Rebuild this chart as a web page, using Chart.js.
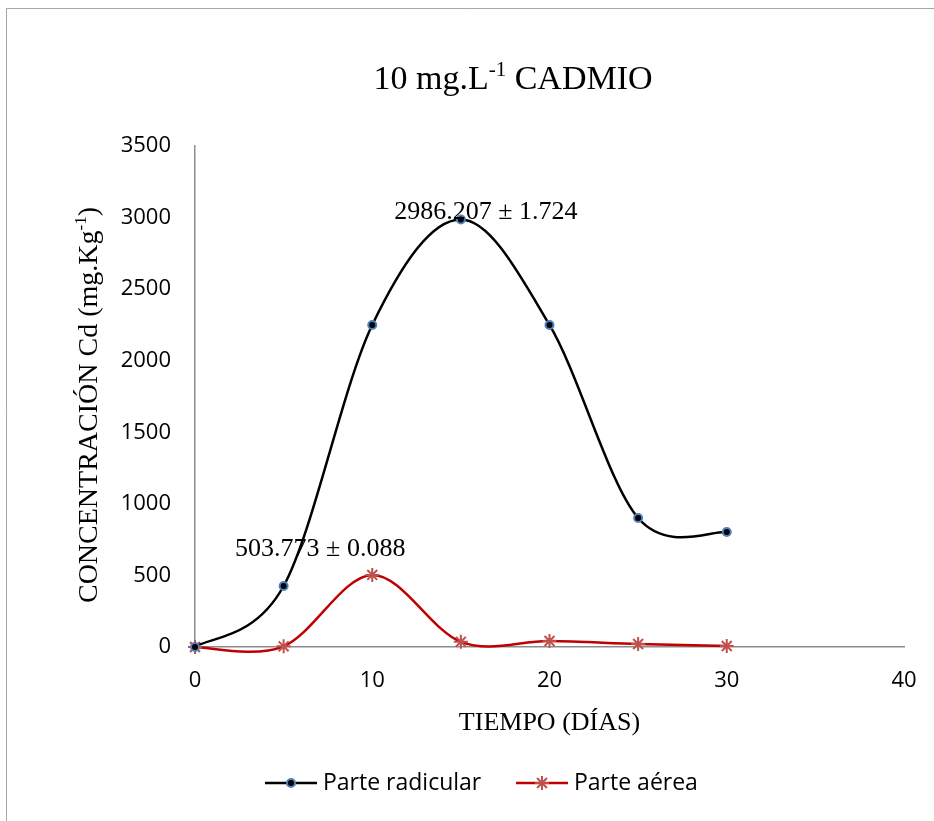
<!DOCTYPE html>
<html>
<head>
<meta charset="utf-8">
<script src="https://cdn.jsdelivr.net/npm/chart.js@4/dist/chart.umd.min.js"></script>
<style>
  html, body { margin: 0; padding: 0; background: #fff; }
  #wrap { width: 934px; height: 821px; position: relative; }
</style>
</head>
<body>
<div id="wrap"><canvas id="myChart" width="934" height="821"></canvas></div>
<script>
// days of exposure
const days = [0, 5, 10, 15, 20, 25, 30];
// Cd concentration (mg/kg) in root and aerial parts
const radicular = [0, 426, 2250, 2986.207, 2250, 901, 803];
const aerea = [0, 5, 503.773, 36, 42, 21, 7];
const yTicks = [0, 500, 1000, 1500, 2000, 2500, 3000, 3500];
const xTicks = [0, 10, 20, 30, 40];

const SERIF = '"Liberation Serif", "Times New Roman", serif';
const SANS = '"Open Sans", "Noto Sans", sans-serif';

function toXY(xs, ys) {
  return xs.map((x, i) => ({ x: x, y: ys[i] }));
}

// text with a raised "-1" part: [base, sup, tail]
function supText(ctx, parts, size, x, y) {
  const small = Math.round(size * 0.62);
  ctx.font = size + 'px ' + SERIF;
  const w0 = ctx.measureText(parts[0]).width;
  ctx.font = small + 'px ' + SERIF;
  const w1 = ctx.measureText(parts[1]).width;
  ctx.font = size + 'px ' + SERIF;
  const w2 = ctx.measureText(parts[2]).width;
  const start = x - (w0 + w1 + w2) / 2;
  ctx.textAlign = 'left';
  ctx.textBaseline = 'alphabetic';
  ctx.fillText(parts[0], start, y);
  ctx.font = small + 'px ' + SERIF;
  ctx.fillText(parts[1], start + w0, y - size * 0.38);
  ctx.font = size + 'px ' + SERIF;
  ctx.fillText(parts[2], start + w0 + w1, y);
}

// smooth lines: uniform Catmull-Rom control points (1/6 of neighbour chord)
const smoothing = {
  id: 'smoothing',
  beforeDatasetsDraw(chart) {
    chart.data.datasets.forEach((d, di) => {
      const meta = chart.getDatasetMeta(di);
      const line = meta.dataset;
      line.updateControlPoints(chart.chartArea, 'x');
      const pts = meta.data;
      const n = pts.length;
      for (let i = 0; i < n; i++) {
        const prev = pts[Math.max(i - 1, 0)];
        const next = pts[Math.min(i + 1, n - 1)];
        const dx = (next.x - prev.x) / 6;
        const dy = (next.y - prev.y) / 6;
        pts[i].cp1x = pts[i].x - dx;
        pts[i].cp1y = pts[i].y - dy;
        pts[i].cp2x = pts[i].x + dx;
        pts[i].cp2y = pts[i].y + dy;
      }
      delete line._path;
    });
  }
};

const decorations = {
  id: 'decorations',
  beforeDraw(chart) {
    const ctx = chart.ctx;
    ctx.save();
    ctx.strokeStyle = '#a6a6a6';
    ctx.lineWidth = 1;
    ctx.beginPath();
    ctx.moveTo(6.5, 900);
    ctx.lineTo(6.5, 8.5);
    ctx.lineTo(940, 8.5);
    ctx.stroke();
    ctx.restore();
  },
  afterDraw(chart) {
    const ctx = chart.ctx;
    const xs = chart.scales.x, ys = chart.scales.y;
    const area = chart.chartArea;
    ctx.save();
    ctx.fillStyle = '#000';

    // chart title
    supText(ctx, ['10 mg.L', '-1', ' CADMIO'], 34, 513, 89);

    // x axis title
    ctx.font = '26px ' + SERIF;
    ctx.textAlign = 'center';
    ctx.textBaseline = 'alphabetic';
    ctx.fillText('TIEMPO (DÍAS)', (area.left + area.right) / 2, 730);

    // y axis title, rotated
    ctx.save();
    ctx.translate(97, 405);
    ctx.rotate(-Math.PI / 2);
    supText(ctx, ['CONCENTRACIÓN Cd (mg.Kg', '-1', ')'], 28, 0, 0);
    ctx.restore();

    // value labels on the peaks
    ctx.font = '26px ' + SERIF;
    ctx.textAlign = 'center';
    ctx.textBaseline = 'alphabetic';
    ctx.fillText(radicular[3].toFixed(3) + ' ± 1.724', xs.getPixelForValue(days[3]) + 25, ys.getPixelForValue(radicular[3]) - 1);
    ctx.fillText(aerea[2].toFixed(3) + ' ± 0.088', xs.getPixelForValue(days[2]) - 52, ys.getPixelForValue(aerea[2]) - 19);

    // legend
    const ly = 783;
    const items = [
      { x: 265, color: '#000', label: 'Parte radicular', ds: 0 },
      { x: 516, color: '#c00000', label: 'Parte aérea', ds: 1 }
    ];
    items.forEach(it => {
      const d = chart.data.datasets[it.ds];
      ctx.strokeStyle = it.color;
      ctx.lineWidth = 2.5;
      ctx.beginPath();
      ctx.moveTo(it.x, ly);
      ctx.lineTo(it.x + 52, ly);
      ctx.stroke();
      ctx.fillStyle = d.pointBackgroundColor;
      ctx.strokeStyle = d.pointBorderColor;
      ctx.lineWidth = d.pointBorderWidth;
      Chart.helpers.drawPoint(ctx, {
        pointStyle: d.pointStyle,
        radius: d.pointRadius,
        borderWidth: d.pointBorderWidth
      }, it.x + 26, ly);
      ctx.fillStyle = '#000';
      ctx.font = '23px ' + SANS;
      ctx.textAlign = 'left';
      ctx.textBaseline = 'middle';
      ctx.fillText(it.label, it.x + 58, ly);
    });
    ctx.restore();
  }
};

new Chart(document.getElementById('myChart').getContext('2d'), {
  type: 'line',
  data: {
    datasets: [
      {
        label: 'Parte radicular',
        data: toXY(days, radicular),
        borderColor: '#000',
        borderWidth: 2.5,
        tension: 0.4,
        pointStyle: 'circle',
        pointRadius: 4,
        pointBorderWidth: 2,
        pointBackgroundColor: '#000',
        pointBorderColor: '#4f81bd',
        clip: false
      },
      {
        label: 'Parte aérea',
        data: toXY(days, aerea),
        borderColor: '#c00000',
        borderWidth: 2.5,
        tension: 0.4,
        pointStyle: 'star',
        pointRadius: 7,
        pointBorderWidth: 2,
        pointBackgroundColor: '#c0504d',
        pointBorderColor: '#c0504d',
        clip: false
      }
    ]
  },
  options: {
    responsive: false,
    animation: false,
    layout: { padding: { top: 146, right: 30, bottom: 104, left: 0 } },
    elements: { line: { capBezierPoints: false } },
    plugins: { legend: { display: false }, title: { display: false }, tooltip: { enabled: false } },
    scales: {
      x: {
        type: 'linear',
        min: 0,
        max: 40,
        afterFit: s => { s.height = 70; s.paddingLeft = 0; s.paddingRight = 0; },
        afterBuildTicks: s => { s.ticks = xTicks.map(v => ({ value: v })); },
        grid: { display: false, drawTicks: false },
        border: { display: true, color: '#8c8c8c', width: 1.5 },
        ticks: { color: '#000', padding: 21, font: { family: SANS, size: 22 }, callback: v => String(v) }
      },
      y: {
        type: 'linear',
        min: 0,
        max: 3500,
        afterFit: s => { s.width = 195; s.paddingTop = 0; s.paddingBottom = 0; },
        afterBuildTicks: s => { s.ticks = yTicks.map(v => ({ value: v })); },
        grid: { display: false, drawTicks: false },
        border: { display: true, color: '#8c8c8c', width: 1.5 },
        ticks: { color: '#000', padding: 24, font: { family: SANS, size: 22 }, callback: v => String(v) }
      }
    }
  },
  plugins: [smoothing, decorations]
});
</script>
</body>
</html>
